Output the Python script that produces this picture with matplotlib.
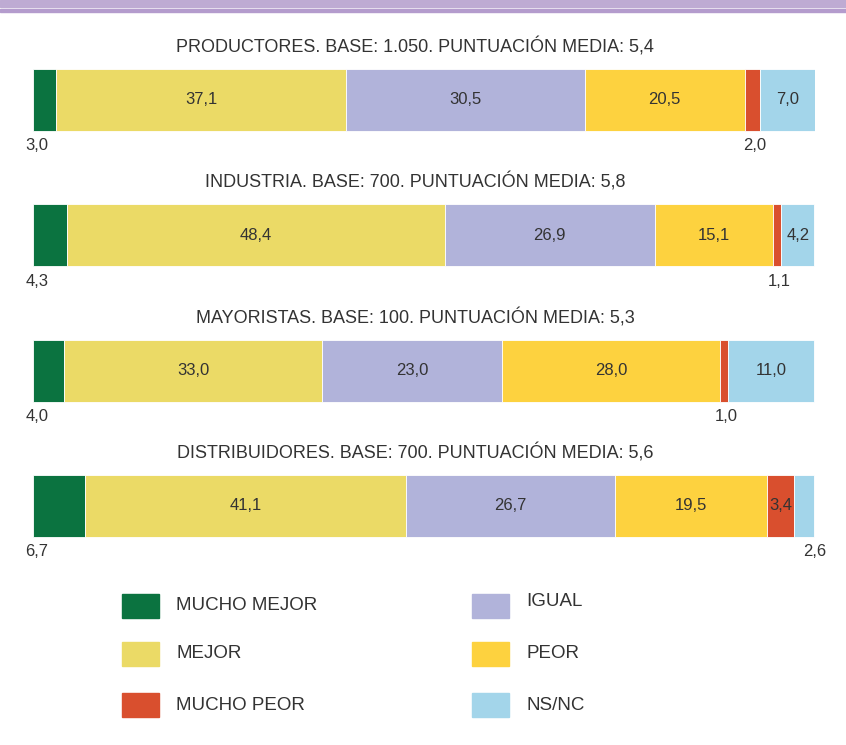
"""Stacked horizontal bars: opinion by sector, with legend below."""

import matplotlib.pyplot as plt
from matplotlib.patches import Rectangle

plt.rcParams["font.family"] = ["Liberation Sans", "DejaVu Sans"]

# Data
sectors = ["PRODUCTORES", "INDUSTRIA", "MAYORISTAS", "DISTRIBUIDORES"]
bases = ["1.050", "700", "100", "700"]
means = ["5,4", "5,8", "5,3", "5,6"]
categories = ["MUCHO MEJOR", "MEJOR", "IGUAL", "PEOR", "MUCHO PEOR", "NS/NC"]
mucho_mejor = [3.0, 4.3, 4.0, 6.7]
mejor = [37.1, 48.4, 33.0, 41.1]
igual = [30.5, 26.9, 23.0, 26.7]
peor = [20.5, 15.1, 28.0, 19.5]
mucho_peor = [2.0, 1.1, 1.0, 3.4]
ns_nc = [7.0, 4.2, 11.0, 2.6]
# segment labelled below the bar on the right side (index into categories)
below_right = [4, 4, 4, 5]

colors = ["#0b7340", "#ebda66", "#b1b3da", "#fdd23f", "#d94f2e", "#a3d5ea"]
legend_order = ["MUCHO MEJOR", "MEJOR", "MUCHO PEOR", "IGUAL", "PEOR", "NS/NC"]

TEXT = "#333333"
W, H = 846, 745

series = [mucho_mejor, mejor, igual, peor, mucho_peor, ns_nc]


def fmt(v):
    return f"{v:.1f}".replace(".", ",")


fig = plt.figure(figsize=(W / 100, H / 100), dpi=100)

# top decorative band
fig.patches.append(Rectangle((0, 1 - 7 / H), 1, 7 / H, transform=fig.transFigure,
                             color="#beabd3", zorder=0))
fig.patches.append(Rectangle((0, 1 - 11.5 / H), 1, 2.5 / H, transform=fig.transFigure,
                             color="#b49ccd", zorder=0))

# bar axes: x in percent, y in row index; row centres at ~100 px, step ~135 px
step = 135.3
ax = fig.add_axes([33 / W, 0, 782 / W, 1])
ax.set_xlim(0, 100.1)
ax.set_ylim((H - 100) / step, -100 / step)
ax.axis("off")

for i, sector in enumerate(sectors):
    left = 0.0
    edges = []
    for k, vals in enumerate(series):
        v = vals[i]
        ax.barh(i, v, left=left, height=62 / step, color=colors[k],
                edgecolor="white", linewidth=0.6)
        edges.append((left, v))
        if k > 0 and v >= 3.0:
            ax.text(left + v / 2, i, fmt(v),
                    ha="center", va="center", fontsize=12, color=TEXT)
        left += v

    ax.text(48.9, i - 53 / step, f"{sector}. BASE: {bases[i]}. PUNTUACIÓN MEDIA: {means[i]}",
            ha="center", va="center", fontsize=13, color=TEXT)

    # value of first segment below bar, left
    ax.text(-1.0, i + 46 / step, fmt(mucho_mejor[i]),
            ha="left", va="center", fontsize=12, color=TEXT)
    # small segment on the right, below bar
    k = below_right[i]
    seg_left, seg_w = edges[k]
    x = seg_left + seg_w if k == len(series) - 1 else seg_left + seg_w / 2 + 0.3
    ax.text(x, i + 46 / step, fmt(series[k][i]),
            ha="center", va="center", fontsize=12, color=TEXT)

# legend drawn in figure pixel coordinates
lax = fig.add_axes([0, 0, 1, 1])
lax.set_xlim(0, W)
lax.set_ylim(H, 0)
lax.axis("off")
col_x = [122, 472]
row_y = [606, 654, 705]
for j, name in enumerate(legend_order):
    c, r = divmod(j, 3)
    color = colors[categories.index(name)]
    lax.add_patch(Rectangle((col_x[c], row_y[r] - 12), 37, 24, color=color))
    dy = -5 if name == "IGUAL" else 0
    lax.text(col_x[c] + 54, row_y[r] + dy, name, ha="left", va="center",
             fontsize=13.5, color=TEXT)

fig.savefig("out.png", dpi=100)
